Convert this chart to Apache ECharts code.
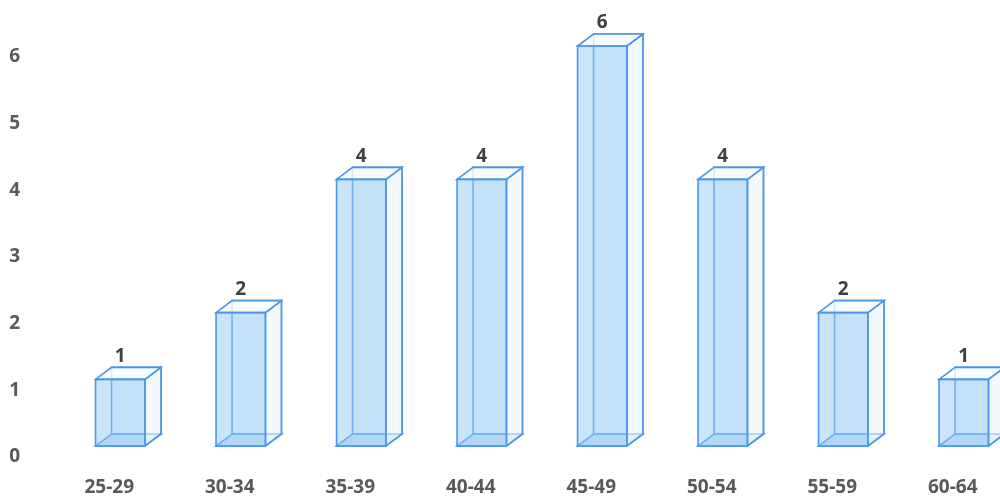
<!DOCTYPE html>
<html><head><meta charset="utf-8">
<script src="https://cdn.jsdelivr.net/npm/echarts@6/dist/echarts.min.js"></script>
<style>html,body{margin:0;padding:0;background:#fff;overflow:hidden;width:1000px;height:497px}#c{width:1024px;height:497px}</style>
</head><body><div id="c"></div>
<script>
const categories = ['25-29','30-34','35-39','40-44','45-49','50-54','55-59','60-64'];
const counts = [1,2,4,4,6,4,2,1];
const yTicks = [0,1,2,3,4,5,6];

const chart = echarts.init(document.getElementById('c'));
const EDGE = '#4a97ea';
const FONT = 'Open Sans';
const labelStyle = { color: '#595959', fontFamily: FONT, fontWeight: 'bold', fontSize: 19 };
chart.setOption({
  backgroundColor: '#ffffff',
  animation: false,
  grid: [
    { left: 60, right: 0, top: 46, bottom: 51 },
    { left: 60, right: 0, top: 57, bottom: 40 }
  ],
  xAxis: [{
    type: 'category', data: categories, gridIndex: 0,
    axisLine: { show: false }, axisTick: { show: false },
    axisLabel: Object.assign({ margin: 32, padding: [0, 22, 0, 0] }, labelStyle)
  }, {
    type: 'category', data: categories, gridIndex: 1, show: false
  }],
  yAxis: [{
    type: 'value', gridIndex: 0, min: yTicks[0], max: yTicks[yTicks.length-1], interval: 1,
    splitLine: { show: false }, axisLine: { show: false }, axisTick: { show: false }, axisLabel: { show: false }
  }, {
    type: 'value', gridIndex: 1, min: yTicks[0], max: yTicks[yTicks.length-1], interval: 1,
    splitLine: { show: false }, axisLine: { show: false }, axisTick: { show: false },
    axisLabel: Object.assign({ margin: 40 }, labelStyle)
  }],
  series: [{
    type: 'custom',
    xAxisIndex: 0, yAxisIndex: 0,
    data: counts.map((v, i) => [i, v]),
    renderItem: function (params, api) {
      const base = api.coord([api.value(0), 0]);
      const top = api.coord([api.value(0), api.value(1)]);
      const w = api.size([1, 0])[0] * 0.41;
      const dx = 16, dy = -12;
      const x0 = base[0] - w / 2, x1 = x0 + w;
      const yb = base[1], yt = top[1];
      const line = { stroke: EDGE, lineWidth: 1.6 };
      return {
        type: 'group',
        children: [
          { type: 'polygon', shape: { points: [[x0+dx, yt+dy],[x1+dx, yt+dy],[x1+dx, yb+dy],[x0+dx, yb+dy]] },
            style: Object.assign({ fill: 'rgba(225,239,251,0.5)' }, line) },
          { type: 'polygon', shape: { points: [[x0, yb],[x1, yb],[x1+dx, yb+dy],[x0+dx, yb+dy]] },
            style: Object.assign({ fill: 'rgba(150,200,242,0.5)' }, line) },
          { type: 'polygon', shape: { points: [[x1, yt],[x1+dx, yt+dy],[x1+dx, yb+dy],[x1, yb]] },
            style: Object.assign({ fill: 'rgba(245,250,254,0.6)' }, line) },
          { type: 'polygon', shape: { points: [[x0, yt],[x1, yt],[x1+dx, yt+dy],[x0+dx, yt+dy]] },
            style: Object.assign({ fill: 'rgba(250,252,255,0.8)' }, line) },
          { type: 'rect', shape: { x: x0, y: yt, width: w, height: yb - yt },
            style: Object.assign({ fill: 'rgba(150,203,244,0.5)' }, line) },
          { type: 'text', style: { text: String(api.value(1)), x: base[0], y: yt - 23, align: 'center', verticalAlign: 'middle',
            fill: '#404040', font: 'bold 19px "Open Sans"' } }
        ]
      };
    }
  }]
});
</script></body></html>
